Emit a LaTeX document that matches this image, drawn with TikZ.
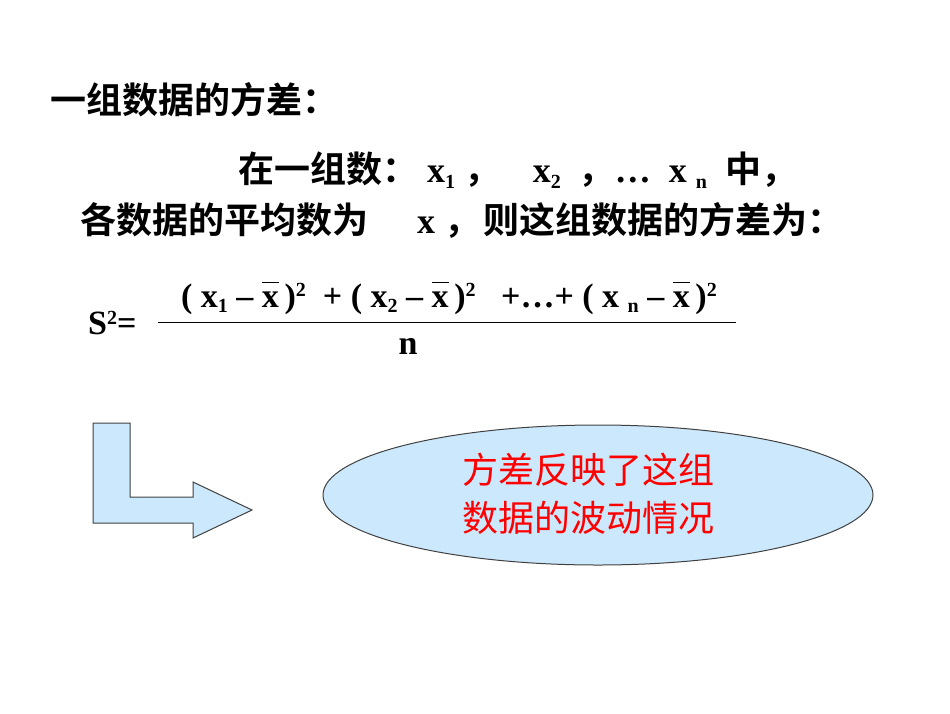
\documentclass[tikz,border=0pt]{standalone}
\usepackage{fontspec}
\usetikzlibrary{shapes.geometric}
\setmainfont{Liberation Serif}
\newfontfamily\cjk{Noto Sans CJK SC}[BoldFont=* Bold]
\definecolor{fillb}{HTML}{CCE8FC}
\newcommand\xbar{\rlap{\rule[0.72em]{0.5em}{1.2pt}}x}
\newcommand\sbt[1]{\raisebox{-0.35ex}{\fontsize{20}{20}\selectfont #1}}
\newcommand\spt[1]{\raisebox{0.7ex}{\fontsize{20}{20}\selectfont #1}}
\begin{document}
\begin{tikzpicture}[x=1pt,y=-1pt,
  zh/.style={font=\cjk\bfseries\fontsize{36}{40}\selectfont,inner sep=0pt,anchor=west},
  fm/.style={font=\bfseries\fontsize{34}{36}\selectfont,inner sep=0pt},
  shape1/.style={draw=black!75,line width=1pt,fill=fillb}]
\useasboundingbox (0,0) rectangle (950,713);
\node[zh] (t1) at (50,100) {一组数据的方差：};
\node[zh] (t2) at (238,170) {在一组数：\bfseries\rmfamily\ x\sbt{1} \cjk，\ \ \ \ \rmfamily x\sbt{2} \ \cjk，\rmfamily … \ x \sbt{n} \ \cjk 中，};
\node[zh] (t3) at (80,220) {各数据的平均数为\ \ \ \ \ \ \rmfamily\bfseries x \cjk，\kern3pt 则这组数据的方差为：};
\node[fm,anchor=west] (s) at (88,323) {S\spt{2}=};
\node[fm] (num) at (449,298) {( x\sbt{1} – \xbar\,)\spt{2} \ + ( x\sbt{2} – \xbar\,)\spt{2} \ \ +…+ ( x \sbt{n} – \xbar\,)\spt{2}};
\node[fm] (den) at (408,346) {n};
\draw[line width=1pt] (158,322) -- (736,322);
\draw[shape1] (93,423) -- (130,423) -- (130,497) -- (193,497) -- (193,482) -- (252,510) -- (193,538) -- (193,523) -- (93,523) -- cycle;
\node[shape1,ellipse,minimum width=550,minimum height=140,inner sep=0pt] (e) at (598,495) {};
\node[font=\cjk\fontsize{36}{48}\selectfont,text=red,align=center] (et) at (588,494) {方差反映了这组\\数据的波动情况};
\end{tikzpicture}
\end{document}
